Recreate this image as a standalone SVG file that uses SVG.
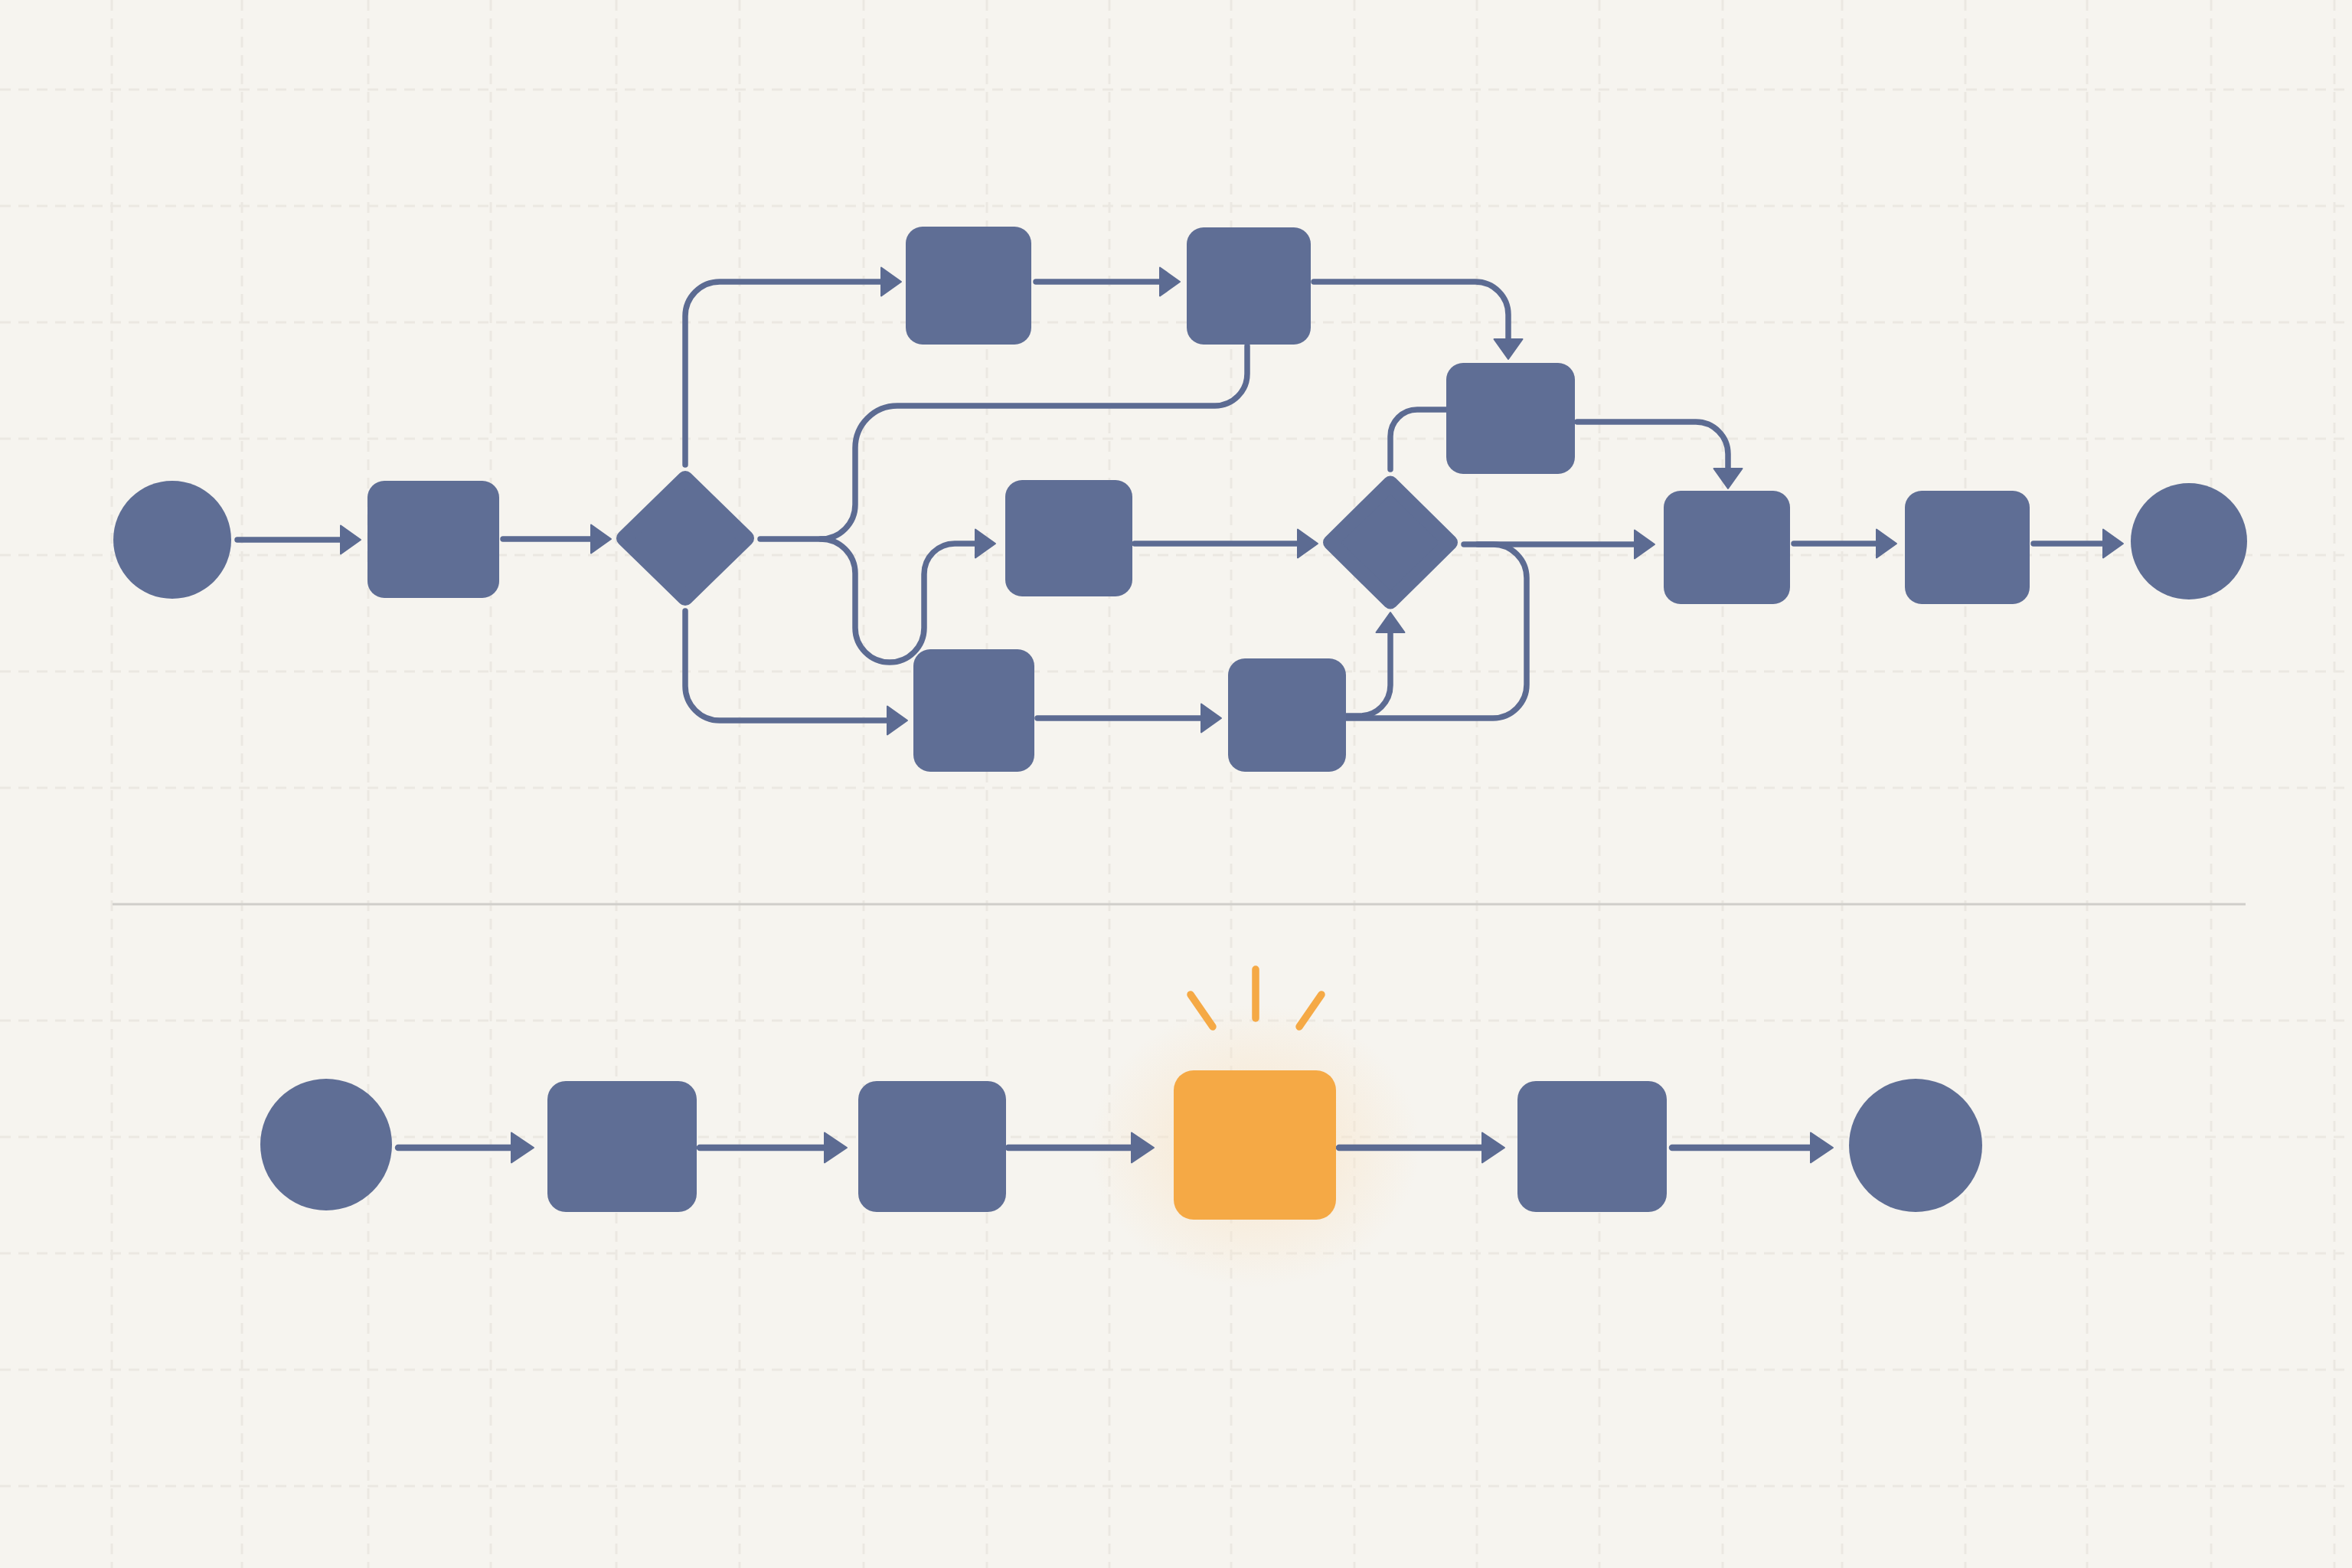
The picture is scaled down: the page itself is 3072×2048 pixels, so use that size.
<svg xmlns="http://www.w3.org/2000/svg" width="3072" height="2048" viewBox="0 0 3072 2048">
<style>
.bg{fill:#F6F4EF}
.grid{stroke:#EBE8E2;stroke-width:3;stroke-dasharray:14 10;fill:none}
.node{fill:#5F6E95}
.dia{fill:#5F6E95;stroke:#5F6E95;stroke-width:20;stroke-linejoin:round}
.conn{fill:none;stroke:#5C6B92;stroke-width:7.5;stroke-linecap:round;stroke-linejoin:round}
.conn2{fill:none;stroke:#5C6B92;stroke-width:8.5;stroke-linecap:round}
.ray{stroke:#F5A945;stroke-width:9.5;stroke-linecap:round}
</style>
<defs>
<marker id="ah" markerUnits="userSpaceOnUse" markerWidth="28" markerHeight="40" viewBox="0 0 28 40" refX="6" refY="20" orient="auto" overflow="visible">
<path d="M1,1.5 L27,20 L1,38.5 Z" fill="#5C6B92" stroke="#5C6B92" stroke-width="2" stroke-linejoin="round"/>
</marker>
<marker id="ah2" markerUnits="userSpaceOnUse" markerWidth="31" markerHeight="42" viewBox="0 0 31 42" refX="7" refY="21" orient="auto" overflow="visible">
<path d="M1,1.5 L30,21 L1,40.5 Z" fill="#5C6B92" stroke="#5C6B92" stroke-width="2" stroke-linejoin="round"/>
</marker>
<radialGradient id="glow" cx="0.5" cy="0.5" r="0.5">
<stop offset="0" stop-color="#F9DFB8" stop-opacity="0.75"/>
<stop offset="0.6" stop-color="#F9E6CC" stop-opacity="0.4"/>
<stop offset="1" stop-color="#F9E6CC" stop-opacity="0"/>
</radialGradient>
</defs>
<rect class="bg" x="0" y="0" width="3072" height="2048"/>
<g id="grid">
<path class="grid" d="M0,117H3072M0,269H3072M0,421H3072M0,573H3072M0,725H3072M0,877H3072M0,1029H3072M0,1333H3072M0,1485H3072M0,1637H3072M0,1789H3072M0,1941H3072"/>
<path class="grid" d="M146,0V2048M316,0V2048M481,0V2048M641,0V2048M805,0V2048M966,0V2048M1128,0V2048M1289,0V2048M1449,0V2048M1608,0V2048M1769,0V2048M1929,0V2048M2089,0V2048M2250,0V2048M2406,0V2048M2567,0V2048M2726,0V2048M2888,0V2048M3049,0V2048"/>
</g>
<line id="divider" x1="147" y1="1181" x2="2933" y2="1181" stroke="#D0CECA" stroke-width="3"/>
<g id="highlight-glow"><ellipse cx="1639" cy="1497" rx="215" ry="185" fill="url(#glow)"/></g>
<g id="connectors">
<path class="conn" d="M310,705 H450" marker-end="url(#ah)"/>
<path class="conn" d="M657,704 H777" marker-end="url(#ah)"/>
<path class="conn" d="M895,607 V413 A45 45 0 0 1 940 368 H1156" marker-end="url(#ah)"/>
<path class="conn" d="M895,798 V896 A45 45 0 0 0 940 941 H1164" marker-end="url(#ah)"/>
<path class="conn" d="M1353,368 H1520" marker-end="url(#ah)"/>
<path class="conn" d="M1716,368 H1927 A43 43 0 0 1 1970 411 V448" marker-end="url(#ah)"/>
<path class="conn" d="M993,704 H1072 A45 45 0 0 0 1117 659 V585 A55 55 0 0 1 1172 530 H1587 A42 42 0 0 0 1629 488 V452"/>
<path class="conn" d="M1072,704 A45 45 0 0 1 1117 749 V820 A45 45 0 0 0 1162 865 A45 45 0 0 0 1207 820 V750 A40 40 0 0 1 1247 710 H1279" marker-end="url(#ah)"/>
<path class="conn" d="M1482,710 H1700" marker-end="url(#ah)"/>
<path class="conn" d="M1355,938 H1574" marker-end="url(#ah)"/>
<path class="conn" d="M1758,935 H1776 A40 40 0 0 0 1816 895 V821" marker-end="url(#ah)"/>
<path class="conn" d="M1758,938 H1950 A44 44 0 0 0 1994 894 V755 A44 44 0 0 0 1950 711 H1930"/>
<path class="conn" d="M1912,711 H2140" marker-end="url(#ah)"/>
<path class="conn" d="M1816,613 V570 A35 35 0 0 1 1851 535 H1890"/>
<path class="conn" d="M2060,551 H2215 A42 42 0 0 1 2257 593 V617" marker-end="url(#ah)"/>
<path class="conn" d="M2343,710 H2456" marker-end="url(#ah)"/>
<path class="conn" d="M2656,710 H2752" marker-end="url(#ah)"/>
<path class="conn2" d="M520,1499 H674" marker-end="url(#ah2)"/>
<path class="conn2" d="M914,1499 H1083" marker-end="url(#ah2)"/>
<path class="conn2" d="M1317,1499 H1484" marker-end="url(#ah2)"/>
<path class="conn2" d="M1749,1499 H1942" marker-end="url(#ah2)"/>
<path class="conn2" d="M2184,1499 H2371" marker-end="url(#ah2)"/>
</g>
<g id="start-top"><circle class="node" cx="225" cy="705" r="77"/></g>
<g id="task-1"><rect class="node" x="480" y="628" width="172" height="153" rx="22"/></g>
<g id="decision-1"><polygon class="dia" points="895,625 975,703 895,781 815,703"/></g>
<g id="task-a"><rect class="node" x="1183" y="296" width="164" height="154" rx="22"/></g>
<g id="task-b"><rect class="node" x="1550" y="297" width="162" height="153" rx="22"/></g>
<g id="task-c"><rect class="node" x="1889" y="474" width="168" height="145" rx="22"/></g>
<g id="task-d"><rect class="node" x="1313" y="627" width="166" height="152" rx="22"/></g>
<g id="task-e"><rect class="node" x="1193" y="848" width="158" height="160" rx="22"/></g>
<g id="task-f"><rect class="node" x="1604" y="860" width="154" height="148" rx="22"/></g>
<g id="decision-2"><polygon class="dia" points="1816,631.5 1894,708.5 1816,785.5 1738,708.5"/></g>
<g id="task-g"><rect class="node" x="2173" y="641" width="165" height="148" rx="22"/></g>
<g id="task-h"><rect class="node" x="2488" y="641" width="163" height="148" rx="22"/></g>
<g id="end-top"><circle class="node" cx="2859" cy="707" r="76"/></g>
<g id="start-bottom"><circle class="node" cx="426" cy="1495" r="86"/></g>
<g id="step-1"><rect class="node" x="715" y="1412" width="195" height="171" rx="24"/></g>
<g id="step-2"><rect class="node" x="1121" y="1412" width="193" height="171" rx="24"/></g>
<g id="step-highlight">
<line class="ray" x1="1555" y1="1299" x2="1584" y2="1341"/>
<line class="ray" x1="1640" y1="1266" x2="1640" y2="1330"/>
<line class="ray" x1="1726" y1="1299" x2="1697" y2="1341"/>
<rect x="1533" y="1398" width="212" height="195" rx="26" fill="#F5A945"/>
</g>
<g id="step-3"><rect class="node" x="1982" y="1412" width="195" height="171" rx="24"/></g>
<g id="end-bottom"><circle class="node" cx="2502" cy="1496" r="87"/></g>
</svg>
